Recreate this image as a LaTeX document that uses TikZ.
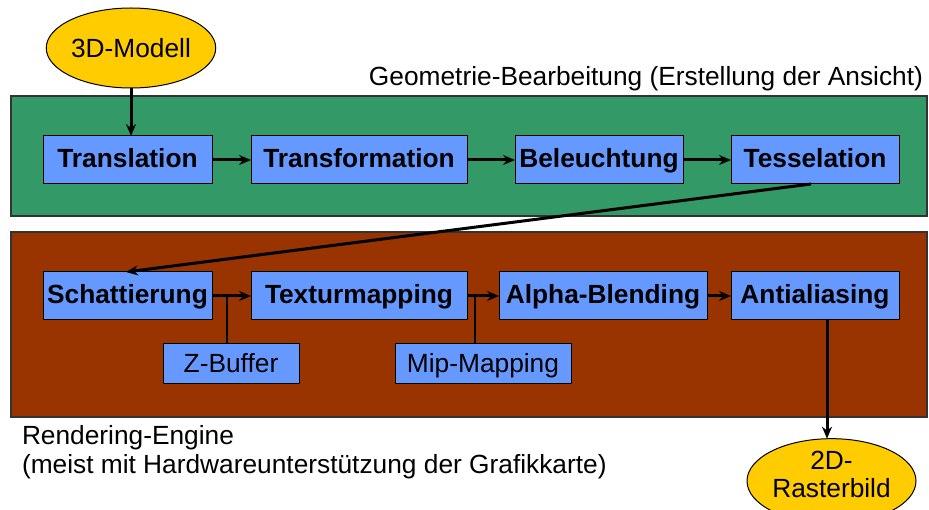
\documentclass[tikz,border=0pt]{standalone}
\usepackage{fontspec}
\setmainfont{Liberation Sans}
\usetikzlibrary{arrows.meta,shapes.geometric}

\definecolor{geogreen}{HTML}{339966}
\definecolor{renderbrown}{HTML}{993300}
\definecolor{stageblue}{HTML}{6699FF}
\definecolor{termyellow}{HTML}{FFCC00}
\definecolor{panelline}{HTML}{333333}

\tikzset{
  every node/.style={font=\fontsize{26.3}{28.5}\selectfont},
  panel/.style={draw=panelline, line width=1.3pt},
  stage/.style={draw=black, fill=stageblue, line width=1pt, minimum height=48pt,
    inner sep=0pt, outer sep=0pt, text height=19pt, text depth=3pt,
    font=\fontsize{26.3}{28.5}\selectfont\bfseries},
  helper/.style={draw=black, fill=stageblue, line width=1pt, minimum height=40pt,
    inner sep=0pt, outer sep=0pt, text height=19pt, text depth=1pt},
  terminal/.style={ellipse, draw=black, fill=termyellow, line width=1pt,
    inner sep=0pt, outer sep=0pt, align=center},
  flow/.style={line width=3pt, -{Stealth[length=12pt,width=10pt,inset=4pt]}},
  tap/.style={line width=1.2pt},
  caption/.style={inner sep=0pt, outer sep=0pt}
}

\begin{document}
\begin{tikzpicture}[x=1pt,y=-1pt]
\useasboundingbox (0,0) rectangle (929,510);
\clip (0,0) rectangle (929,510);

% pipeline panels
\draw[panel, fill=geogreen] (11,96) rectangle (927,216);
\draw[panel, fill=renderbrown] (11,232) rectangle (927,417);

% panel captions (a two-line node sits on the baseline of its last line)
\node[caption, anchor=base east] (geocap) at (923,86)
  {Geometrie-Bearbeitung (Erstellung der Ansicht)};
\node[caption, anchor=base west, align=left] (rendcap) at (22,473)
  {Rendering-Engine\\(meist mit Hardwareunterstützung der Grafikkarte)};

% end points
\node[terminal, minimum width=160pt, minimum height=80pt] (model) at (131,48) {3D-Modell};
\node[terminal, minimum width=169pt, minimum height=84pt] (raster) at (831.5,481)
  {2D-\\Rasterbild\rule[-13pt]{0pt}{13pt}};

% geometry stages
\node[stage, minimum width=169pt] (transl) at (127.5,160) {Translation};
\node[stage, minimum width=216pt] (transf) at (359,160) {Transformation};
\node[stage, minimum width=168pt] (light)  at (599,160) {Beleuchtung};
\node[stage, minimum width=168pt] (tess)   at (815,160) {Tesselation};

% rendering stages
\node[stage, minimum width=169pt] (shade) at (127.5,296) {Schattierung};
\node[stage, minimum width=216pt] (tex)   at (359,296) {Texturmapping};
\node[stage, minimum width=208pt] (alpha) at (603,296) {Alpha-Blending};
\node[stage, minimum width=168pt] (anti)  at (815,296) {Antialiasing};

% auxiliary techniques
\node[helper, minimum width=136pt] (zbuf) at (231,364) {Z-Buffer};
\node[helper, minimum width=176pt] (mip)  at (483,364) {Mip-Mapping};

\coordinate (ztap) at (227,296);
\coordinate (mtap) at (475,296);
\draw[tap] (ztap) -- (ztap |- zbuf.north);
\draw[tap] (mtap) -- (mtap |- mip.north);

% data flow
\draw[flow] (model.south) -- (model.south |- transl.north);
\draw[flow] (transl) -- (transf);
\draw[flow] (transf) -- (light);
\draw[flow] (light) -- (tess);
\draw[flow] ([xshift=-4pt]tess.south) -- ([xshift=-1.5pt]shade.north);
\draw[flow] (shade) -- (tex);
\draw[flow] (tex) -- (alpha);
\draw[flow] (alpha) -- (anti);
\draw[flow] ([xshift=12pt]anti.south) -- ([xshift=12pt]anti.south |- raster.north);
\end{tikzpicture}
\end{document}
